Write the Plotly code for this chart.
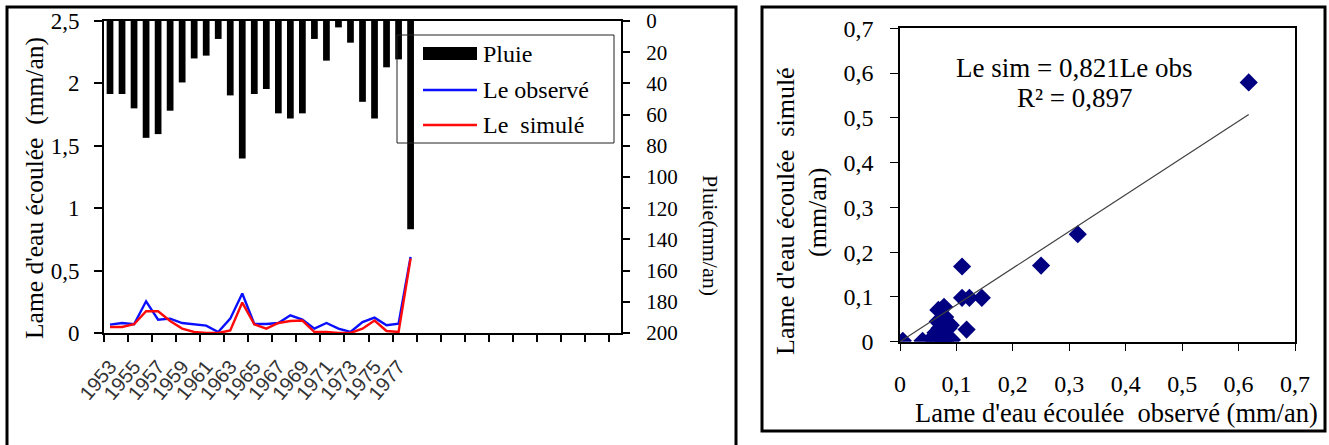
import plotly.graph_objects as go

# ---------------- data ----------------
years = list(range(1953, 1979))
pluie = [46.8, 46.8, 56.0, 74.9, 72.5, 57.5, 39.4, 24.0, 22.2, 11.5, 47.7, 88.1, 46.8,
         43.6, 59.2, 62.5, 59.2, 11.5, 25.4, 4.1, 13.9, 51.8, 62.5, 29.7, 24.6, 133.5]
le_observe = [0.067, 0.080, 0.070, 0.254, 0.107, 0.115, 0.080, 0.070, 0.059, 0.008, 0.115,
              0.316, 0.072, 0.072, 0.080, 0.142, 0.107, 0.035, 0.080, 0.035, 0.008, 0.088,
              0.123, 0.062, 0.075, 0.610]
le_simule = [0.048, 0.048, 0.070, 0.174, 0.174, 0.096, 0.035, 0.008, 0.000, 0.000, 0.020,
             0.244, 0.070, 0.035, 0.080, 0.096, 0.100, 0.008, 0.008, 0.000, 0.000, 0.035,
             0.100, 0.016, 0.008, 0.597]
year_labels = [str(y) for y in range(1953, 1978, 2)]
last_slot_year = 1995  # empty category slots continue to here on the axis
series_names = ["Pluie", "Le observé", "Le  simulé"]

obs_scatter = [0.618, 0.315, 0.250, 0.110, 0.110, 0.123, 0.145, 0.118, 0.078, 0.068, 0.005,
               0.040, 0.057, 0.077, 0.085, 0.063, 0.067, 0.080, 0.090, 0.083, 0.073, 0.086,
               0.070, 0.060, 0.072, 0.092]
sim_scatter = [0.579, 0.240, 0.170, 0.168, 0.098, 0.098, 0.098, 0.027, 0.078, 0.071, 0.002,
               0.002, 0.006, 0.002, 0.008, 0.020, 0.045, 0.055, 0.037, 0.040, 0.015, 0.030,
               0.030, 0.012, 0.008, 0.004]
slope = 0.821
r2 = 0.897

# ---------------- figure ----------------
W, H = 1329, 445
def px(x):
    return x / W
def py(y):
    return (H - y) / H

SERIF = "Liberation Serif, Times New Roman, serif"
SANS = "Liberation Sans, Arial, sans-serif"
BLUE = "#0a10ff"
RED = "#ff0a0a"

fig = go.Figure()

fig.add_trace(go.Bar(x=years, y=pluie, name=series_names[0], showlegend=False,
                     marker=dict(color="black", line=dict(width=0)),
                     xaxis="x", yaxis="y2"))
fig.add_trace(go.Scatter(x=years, y=le_observe, name=series_names[1], mode="lines", showlegend=False,
                         line=dict(color=BLUE, width=2.4), xaxis="x", yaxis="y"))
fig.add_trace(go.Scatter(x=years, y=le_simule, name=series_names[2], mode="lines", showlegend=False,
                         line=dict(color=RED, width=2.4), xaxis="x", yaxis="y"))

# scatter
fig.add_trace(go.Scatter(x=obs_scatter, y=sim_scatter, mode="markers", showlegend=False,
                         marker=dict(symbol="diamond", size=14, color="#000080"),
                         xaxis="x3", yaxis="y3"))
x_fit = [0, max(obs_scatter)]
fig.add_trace(go.Scatter(x=x_fit, y=[slope * v for v in x_fit], mode="lines", showlegend=False,
                         line=dict(color="#404040", width=1.2), xaxis="x3", yaxis="y3"))

minor_ticks = [1952.5 + 2 * k for k in range((last_slot_year - 1952) // 2 + 1)]

fig.update_layout(
    width=W, height=H,
    margin=dict(l=0, r=0, t=0, b=0, autoexpand=False),
    paper_bgcolor="white", plot_bgcolor="white",
    separators=", ",
    bargap=0.44,
    showlegend=False,
    font=dict(family=SERIF, color="black"),
    xaxis=dict(domain=[px(104), px(621)], range=[1952.5, last_slot_year + 0.5],
               tickmode="array", tickvals=[int(t) for t in year_labels], ticktext=year_labels,
               ticks="", tickangle=-50, tickfont=dict(family=SANS, size=20, color="#333333"),
               ticklabelstandoff=12, automargin=False,
               showline=True, linecolor="black", linewidth=2, mirror=True,
               showgrid=False, zeroline=False, anchor="y",
               minor=dict(tickvals=minor_ticks, ticks="outside", ticklen=7, tickwidth=1.5,
                          tickcolor="black", showgrid=False)),
    yaxis=dict(domain=[py(333), py(21)], range=[0, 2.5], dtick=0.5,
               ticks="outside", ticklen=8, tickwidth=1.5, tickcolor="black",
               tickfont=dict(family=SERIF, size=23), ticklabelstandoff=10, automargin=False,
               showline=True, linecolor="black", linewidth=2,
               showgrid=False, zeroline=False, anchor="x"),
    yaxis2=dict(overlaying="y", side="right", range=[200, 0], dtick=20,
                ticks="outside", ticklen=7, tickwidth=1.5, tickcolor="black",
                tickfont=dict(family=SERIF, size=21), ticklabelstandoff=12, automargin=False,
                showline=True, linecolor="black", linewidth=2,
                showgrid=False, zeroline=False, anchor="x"),
    xaxis3=dict(domain=[px(900), px(1295)], range=[0, 0.7], dtick=0.1,
                ticks="outside", ticklen=8, tickwidth=1, tickcolor="black",
                tickfont=dict(family=SERIF, size=24), ticklabelstandoff=12, automargin=False,
                showline=True, linecolor="black", linewidth=1.5, mirror=True,
                showgrid=False, zeroline=False, anchor="y3"),
    yaxis3=dict(domain=[py(341.7), py(28.3)], range=[0, 0.7], dtick=0.1,
                ticks="outside", ticklen=8, tickwidth=1, tickcolor="black",
                tickfont=dict(family=SERIF, size=24), ticklabelstandoff=12, automargin=False,
                showline=True, linecolor="black", linewidth=1.5, mirror=True,
                showgrid=False, zeroline=False, anchor="x3"),
)

annotations = [
    dict(text="Lame d'eau écoulée  (mm/an)", x=px(35), y=py(188), textangle=-90,
         font=dict(size=25.5)),
    dict(text="Pluie(mm/an)", x=px(710), y=py(235), textangle=90, font=dict(size=22)),
    dict(text="Lame d'eau écoulée  simulé", x=px(785), y=py(211), textangle=-90,
         font=dict(size=26)),
    dict(text="(mm/an)", x=px(817), y=py(212), textangle=-90, font=dict(size=26)),
    dict(text="Lame d'eau écoulée  observé (mm/an)", x=px(1116), y=py(413),
         font=dict(size=26.5)),
    dict(text=f"Le sim = {str(slope).replace('.', ',')}Le obs", x=px(1074), y=py(68),
         font=dict(size=27)),
    dict(text=f"R² = {str(r2).replace('.', ',')}", x=px(1075), y=py(98), font=dict(size=27)),
]
for a in annotations:
    a.update(xanchor="center")

# manual legend (text entries)
legend_rows_y = [54, 90, 125]
for name, yy in zip(series_names, legend_rows_y):
    annotations.append(dict(text=name, x=px(481), y=py(yy), xanchor="left", font=dict(size=24)))

for a in annotations:
    a.update(xref="paper", yref="paper", showarrow=False, yanchor="middle")
    a["font"]["family"] = SERIF
    a["font"]["color"] = "black"
fig.update_layout(annotations=annotations)

shapes = [
    dict(type="rect", xref="paper", yref="paper", x0=px(7), x1=px(736), y0=py(460), y1=py(7),
         line=dict(color="black", width=3)),
    dict(type="rect", xref="paper", yref="paper", x0=px(762), x1=px(1325), y0=py(431), y1=py(7),
         line=dict(color="black", width=3)),
    # legend box and swatches
    dict(type="rect", xref="paper", yref="paper", x0=px(397), x1=px(614), y0=py(143), y1=py(35),
         line=dict(color="#222222", width=1)),
    dict(type="rect", xref="paper", yref="paper", x0=px(423), x1=px(477), y0=py(60), y1=py(47),
         line=dict(width=0), fillcolor="black"),
    dict(type="line", xref="paper", yref="paper", x0=px(423), x1=px(477),
         y0=py(legend_rows_y[1]), y1=py(legend_rows_y[1]), line=dict(color=BLUE, width=2.4)),
    dict(type="line", xref="paper", yref="paper", x0=px(423), x1=px(477),
         y0=py(legend_rows_y[2]), y1=py(legend_rows_y[2]), line=dict(color=RED, width=2.4)),
]
fig.update_layout(shapes=shapes)

fig.write_html("out.html")
